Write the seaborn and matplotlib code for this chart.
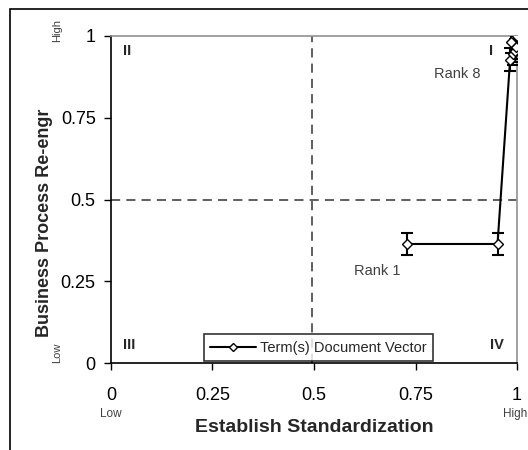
import matplotlib
matplotlib.use('Agg')
import matplotlib.pyplot as plt
import matplotlib.patches as mpatches
import pandas as pd
import seaborn as sns

# Data (rank 1 .. rank 8)
ranks = [1, 2, 3, 4, 5, 6, 7, 8]
standardization = [0.73, 0.952, 0.983, 0.99, 0.994, 0.997, 0.986, 1.0]
reengineering = [0.364, 0.364, 0.928, 0.945, 0.955, 0.965, 0.982, 1.0]
errors = [0.035, 0.035, 0.035, 0.035, 0.035, 0.035, 0.035, 0.035]
ticks = [0, 0.25, 0.5, 0.75, 1]
tick_labels = ['0', '0.25', '0.5', '0.75', '1']

df = pd.DataFrame({'rank': ranks, 'x': standardization, 'y': reengineering, 'err': errors})

sns.set_style('white')
plt.rcParams['font.family'] = ['Liberation Sans', 'DejaVu Sans']

fig = plt.figure(figsize=(5.28, 4.5), dpi=100)
ax = fig.add_axes([0.2102, 0.1933, 0.769, 0.7267])

# outer frame of the chart area
fig.patches.append(mpatches.Rectangle((10 / 528, -0.1), 1.2, 1 - 9 / 450 + 0.1,
                                      transform=fig.transFigure, fill=False,
                                      edgecolor='black', linewidth=1.2))

# quadrant dividers
ax.axhline(0.5, color='#333333', linestyle=(0, (6, 4)), linewidth=1.1, zorder=1)
ax.axvline(0.495, color='#333333', linestyle=(0, (6, 4)), linewidth=1.1, zorder=1)

ax.errorbar(df['x'], df['y'], yerr=df['err'], fmt='none', ecolor='black',
            elinewidth=1.5, capsize=4, capthick=1.5, zorder=3)
sns.lineplot(data=df, x='x', y='y', ax=ax, sort=False, estimator=None,
             color='black', linewidth=1.5, marker='D', markersize=5,
             markerfacecolor='white', markeredgecolor='black', markeredgewidth=1,
             label='Term(s) Document Vector', zorder=4)

ax.set_xlim(0, 1)
ax.set_ylim(0, 1)
ax.set_xticks(ticks)
ax.set_xticklabels(tick_labels)
ax.set_yticks(ticks)
ax.set_yticklabels(tick_labels)
ax.tick_params(axis='both', direction='out', length=5, width=1, labelsize=13,
               colors='black', bottom=True, left=True)
ax.tick_params(axis='x', pad=12)
ax.tick_params(axis='y', pad=6)

for side in ['left', 'bottom']:
    ax.spines[side].set_color('black')
    ax.spines[side].set_linewidth(1.2)
for side in ['top', 'right']:
    ax.spines[side].set_color('#909090')
    ax.spines[side].set_linewidth(1.2)

ax.set_xlabel('Establish Standardization', fontsize=14, fontweight='bold')
ax.xaxis.set_label_coords(0.5, -0.172)
ax.set_ylabel('Business Process Re-engr', fontsize=13, fontweight='bold')
ax.yaxis.set_label_coords(-0.143, 0.43)

# quadrant labels
ax.text(0.04, 0.955, 'II', fontsize=10.5, fontweight='bold', ha='center', va='center')
ax.text(0.935, 0.955, 'I', fontsize=10.5, fontweight='bold', ha='center', va='center')
ax.text(0.045, 0.055, 'III', fontsize=10.5, fontweight='bold', ha='center', va='center')
ax.text(0.95, 0.055, 'IV', fontsize=10.5, fontweight='bold', ha='center', va='center')

ax.text(0.852, 0.885, 'Rank 8', fontsize=10.5, color='#404040', ha='center', va='center')
ax.text(0.657, 0.28, 'Rank 1', fontsize=10.5, color='#404040', ha='center', va='center')

# Low / High hints
ax.text(-0.133, 1.018, 'High', fontsize=8, color='#404040', rotation=90,
        ha='center', va='center', transform=ax.transAxes)
ax.text(-0.133, 0.03, 'Low', fontsize=8, color='#404040', rotation=90,
        ha='center', va='center', transform=ax.transAxes)
ax.text(0.0, -0.156, 'Low', fontsize=8.5, color='#404040', ha='center', va='center',
        transform=ax.transAxes)
ax.text(0.995, -0.156, 'High', fontsize=8.5, color='#404040', ha='center', va='center',
        transform=ax.transAxes)

leg = ax.legend(loc='lower center', bbox_to_anchor=(0.511, 0.005), fontsize=10.5,
                frameon=True, fancybox=False, handlelength=3.1, markerscale=0.9,
                borderpad=0.45, handletextpad=0.3, borderaxespad=0.0,
                edgecolor='black')
leg.get_frame().set_linewidth(1.2)

fig.savefig('out.png', dpi=100)
